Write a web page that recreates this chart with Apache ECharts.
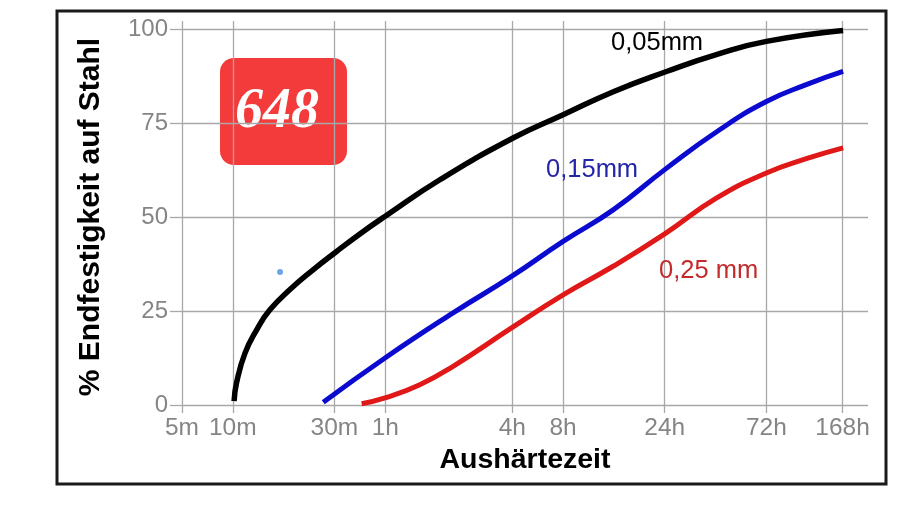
<!DOCTYPE html>
<html lang="de">

<head>
    <meta charset="UTF-8">
    <title>Aushärtezeit</title>
    <script src="https://cdn.jsdelivr.net/npm/echarts@6/dist/echarts.min.js"></script>
    <style>
        html, body { margin: 0; padding: 0; background: #fff; }
    </style>
</head>

<body>
    <div id="main" style="width: 900px;height: 506px"></div>
    <script>
        // x axis: positions of the time ticks (in axis units) and their labels
        var tickPos = [0, 2, 6, 8, 13, 15, 19, 23, 26];
        var tickNames = ['5m', '10m', '30m', '1h', '4h', '8h', '24h', '72h', '168h'];

        // curves: [x position, % strength]
        var mm005 = [[2.05, 1], [2.15, 6], [2.48, 13.8], [2.94, 20], [3.46, 25.3], [4.25, 30.7],
            [5.17, 36], [6.02, 40.5], [7, 45.5], [8, 50.2], [10.15, 59.9],
            [13.03, 71], [15, 77.2], [17, 83.4], [19.07, 88.7], [21.03, 93.2], [23, 96.7], [26.02, 99.6]];
        var mm015 = [[5.56, 0.7], [7.99, 12.5], [10.67, 24.5], [12.97, 34.2], [15, 43.5], [16.97, 51.9],
            [19, 62.6], [21.16, 73.2], [23, 80.7], [24.57, 85.2], [26.02, 88.7]];
        var mm025 = [[7.07, 0.35], [7.99, 1.9], [9.36, 5.4], [10.67, 10.3], [12.97, 20.5],
            [15, 29.3], [16.97, 36.9], [19, 45.5], [21.03, 55], [23, 61.7], [24.57, 65.5], [26.02, 68.4]];
        var strayDot = [[3.86, 35.4]];

        var gridColor = '#a8a8a8';
        var labelColor = '#858585';

        var myChart = echarts.init(document.getElementById('main'));

        function curve(name, data, color, width) {
            return {
                name: name,
                type: 'line',
                data: data,
                smooth: 0.5,
                symbol: 'none',
                lineStyle: { color: color, width: width },
                z: 5
            };
        }

        myChart.setOption({
            animation: false,
            textStyle: { fontFamily: 'Liberation Sans, Arial, sans-serif' },
            grid: { left: 182, right: 32, top: 29, bottom: 101, containLabel: false },
            xAxis: [{
                type: 'value',
                min: 0,
                max: 27,
                name: 'Aushärtezeit',
                nameLocation: 'middle',
                nameGap: 39,
                nameTextStyle: { color: '#000', fontSize: 28.5, fontWeight: 'bold' },
                axisLine: { show: false },
                axisTick: { show: true, customValues: tickPos, length: 8, lineStyle: { color: gridColor, width: 1.3 } },
                axisLabel: {
                    customValues: tickPos,
                    color: labelColor,
                    fontSize: 24.5,
                    margin: 11,
                    formatter: function (v) {
                        var i = tickPos.indexOf(v);
                        return i < 0 ? '' : tickNames[i];
                    }
                },
                splitLine: { show: true, lineStyle: { color: gridColor, width: 1.3 } }
            }, {
                // only for the little tick stubs above the plot
                type: 'value',
                position: 'top',
                min: 0,
                max: 27,
                axisLine: { show: false },
                axisTick: { show: true, customValues: tickPos, length: 8, lineStyle: { color: gridColor, width: 1.3 } },
                axisLabel: { show: false },
                splitLine: { show: false }
            }],
            yAxis: {
                type: 'value',
                min: 0,
                max: 100,
                interval: 25,
                name: '% Endfestigkeit auf Stahl',
                nameLocation: 'middle',
                nameGap: 76,
                nameTextStyle: { color: '#000', fontSize: 30, fontWeight: 'bold' },
                axisLine: { show: false },
                axisTick: { show: true, length: 12, lineStyle: { color: gridColor, width: 1.3 } },
                axisLabel: { color: labelColor, fontSize: 24, margin: 14 },
                splitLine: { show: true, lineStyle: { color: gridColor, width: 1.3 } }
            },
            series: [
                curve('0,05mm', mm005, '#000', 5.5),
                curve('0,15mm', mm015, '#0b0bd0', 5),
                curve('0,25 mm', mm025, '#e01818', 5),
                {
                    type: 'scatter',
                    data: strayDot,
                    symbolSize: 6,
                    itemStyle: { color: '#4a8fe0' },
                    silent: true
                }
            ],
            graphic: [
                // outer frame
                {
                    type: 'rect',
                    shape: { x: 57, y: 11, width: 829, height: 473 },
                    style: { fill: 'none', stroke: '#1a1a1a', lineWidth: 3 },
                    z: 1
                },
                // curve labels
                {
                    type: 'text', left: 611, top: 30, z: 10,
                    style: { text: '0,05mm', fill: '#000', font: '25.5px "Liberation Sans", Arial, sans-serif' }
                },
                {
                    type: 'text', left: 546, top: 157, z: 10,
                    style: { text: '0,15mm', fill: '#2424a8', font: '25.5px "Liberation Sans", Arial, sans-serif' }
                },
                {
                    type: 'text', left: 659, top: 258, z: 10,
                    style: { text: '0,25 mm', fill: '#c42a2a', font: '25.5px "Liberation Sans", Arial, sans-serif' }
                },
                // red badge
                {
                    type: 'group', left: 220, top: 58, z: 20,
                    children: [{
                        type: 'rect',
                        shape: { x: 0, y: 0, width: 127, height: 107, r: 14 },
                        style: { fill: '#f43b3b' }
                    }, {
                        type: 'text',
                        x: 57, y: 55,
                        style: {
                            text: '648', fill: '#fff',
                            font: 'italic bold 56px "Liberation Serif", "DejaVu Serif", serif',
                            align: 'center', verticalAlign: 'middle'
                        }
                    }]
                }
            ]
        });
    </script>

</body>

</html>
